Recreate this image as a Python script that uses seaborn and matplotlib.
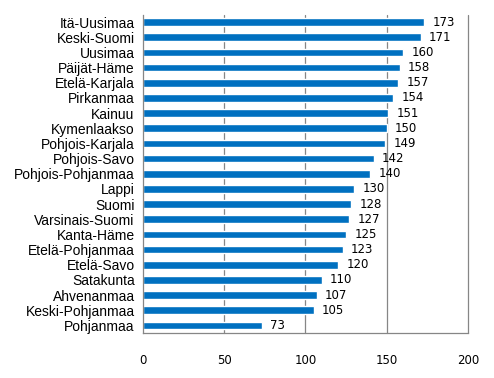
import matplotlib
matplotlib.use("Agg")
import matplotlib.pyplot as plt
import numpy as np
import pandas as pd
import seaborn as sns

regions = ["Itä-Uusimaa", "Keski-Suomi", "Uusimaa", "Päijät-Häme", "Etelä-Karjala",
           "Pirkanmaa", "Kainuu", "Kymenlaakso", "Pohjois-Karjala", "Pohjois-Savo",
           "Pohjois-Pohjanmaa", "Lappi", "Suomi", "Varsinais-Suomi", "Kanta-Häme",
           "Etelä-Pohjanmaa", "Etelä-Savo", "Satakunta", "Ahvenanmaa",
           "Keski-Pohjanmaa", "Pohjanmaa"]
values = [173, 171, 160, 158, 157, 154, 151, 150, 149, 142, 140, 130, 128, 127,
          125, 123, 120, 110, 107, 105, 73]
x_ticks = [0, 50, 100, 150, 200]

df = pd.DataFrame({"region": regions, "value": values})

sns.set_style("white")
fig = plt.figure(figsize=(4.94, 3.78), dpi=100)
ax = fig.add_axes([0.2895, 0.119, 0.6575, 0.8426])

sns.barplot(data=df, x="value", y="region", orient="h", color="#0070C0",
            saturation=1, width=0.5, ax=ax)

ax.set_xlim(0, 200)
ax.set_ylim(len(regions) - 0.5, -0.5)
ax.set_xticks(x_ticks)
ax.set_xticklabels([str(t) for t in x_ticks], fontsize=8.5, family="DejaVu Sans",
                   color="black")
ax.set_xlabel("")
ax.set_ylabel("")

for t in x_ticks[1:]:
    ax.axvline(t, color="#868686", lw=0.9, zorder=0, clip_on=False)

# category labels, ticks between categories
ax.set_yticks(range(len(regions)))
ax.set_yticklabels(regions, fontsize=10, family="Liberation Sans", color="black")
ax.tick_params(axis="y", length=0, pad=6)
ax.set_yticks(np.arange(-0.5, len(regions), 1), minor=True)
ax.tick_params(axis="y", which="minor", length=4, color="#868686", width=0.9)
ax.tick_params(axis="x", length=4, color="#868686", width=0.9, pad=11)

for side in ["top", "right"]:
    ax.spines[side].set_visible(False)
for side in ["left", "bottom"]:
    ax.spines[side].set_color("#868686")
    ax.spines[side].set_linewidth(0.9)

for i, v in enumerate(values):
    ax.annotate(str(v), (v, i), xytext=(6, 0), textcoords="offset points",
                va="center", ha="left", fontsize=8.5, family="DejaVu Sans",
                color="black")

fig.savefig("out.png", dpi=100)
